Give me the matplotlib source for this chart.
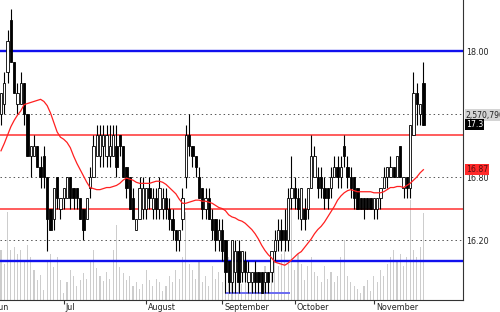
import matplotlib
matplotlib.use("Agg")
import matplotlib.pyplot as plt
import numpy as np

# daily candles (price)
opens = [17.4, 17.5, 17.8, 18.3, 17.9, 17.5, 17.5, 17.7, 17.4, 17.0,
         17.0, 17.1, 16.9, 17.0, 16.8, 16.5, 16.4, 16.8, 16.5, 16.6,
         16.6, 16.8, 16.7, 16.7, 16.6, 16.5, 16.4, 16.7, 16.8, 17.0,
         17.0, 17.1, 17.0, 17.0, 17.0, 17.1, 17.2, 17.1, 16.9, 16.8,
         16.6, 16.3, 16.4, 16.5, 16.5, 16.7, 16.5, 16.6, 16.5, 16.5,
         16.6, 16.5, 16.4, 16.3, 16.2, 16.4, 16.8, 17.2, 17.1, 17.0,
         16.8, 16.7, 16.5, 16.6, 16.4, 16.4, 16.2, 16.3, 16.2, 16.0,
         15.8, 15.9, 16.1, 15.9, 16.0, 15.8, 15.8, 15.9, 15.9, 15.9,
         15.8, 15.9, 15.9, 16.1, 16.2, 16.3, 16.3, 16.2, 16.6, 16.7,
         16.6, 16.4, 16.5, 16.5, 16.7, 16.8, 16.8, 16.8, 16.7, 16.7,
         16.7, 16.8, 16.9, 16.8, 17.1, 16.9, 16.8, 16.8, 16.7, 16.6,
         16.6, 16.6, 16.6, 16.5, 16.5, 16.6, 16.7, 16.8, 16.8, 16.9,
         16.8, 17.1, 16.7, 16.8, 16.7, 17.2, 17.6, 17.4, 17.7]
closes = [17.6, 17.7, 18.1, 17.9, 17.6, 17.6, 17.7, 17.4, 17.0, 17.1,
          17.1, 16.9, 16.8, 16.8, 16.4, 16.3, 16.7, 16.6, 16.6, 16.7,
          16.8, 16.6, 16.6, 16.6, 16.4, 16.3, 16.6, 16.8, 17.1, 17.2,
          17.2, 17.2, 17.2, 17.1, 17.2, 16.9, 17.1, 16.8, 16.7, 16.5,
          16.4, 16.4, 16.7, 16.7, 16.7, 16.6, 16.6, 16.5, 16.7, 16.6,
          16.5, 16.4, 16.3, 16.2, 16.3, 16.6, 17.2, 17.1, 17.0, 16.9,
          16.6, 16.5, 16.6, 16.4, 16.3, 16.2, 16.3, 16.1, 15.9, 15.8,
          16.2, 16.1, 15.8, 16.1, 15.9, 15.9, 15.9, 15.8, 15.8, 15.7,
          15.9, 15.8, 16.1, 16.2, 16.3, 16.2, 16.2, 16.6, 16.7, 16.6,
          16.5, 16.7, 16.4, 16.7, 17.0, 17.0, 16.7, 16.7, 16.6, 16.6,
          16.8, 16.9, 16.8, 16.9, 17.0, 16.8, 16.7, 16.6, 16.5, 16.5,
          16.5, 16.5, 16.5, 16.6, 16.6, 16.7, 16.8, 16.9, 16.9, 16.8,
          17.0, 16.8, 16.8, 16.7, 17.3, 17.6, 17.5, 17.5, 17.3]
highs = [17.6, 17.8, 18.2, 18.4, 17.9, 17.7, 17.8, 17.7, 17.4, 17.1,
         17.2, 17.1, 17.0, 17.1, 16.8, 16.5, 16.7, 16.8, 16.6, 16.7,
         16.8, 16.8, 16.7, 16.7, 16.6, 16.5, 16.6, 16.9, 17.2, 17.3,
         17.3, 17.3, 17.3, 17.3, 17.3, 17.3, 17.2, 17.1, 16.9, 16.8,
         16.7, 16.4, 16.8, 16.8, 16.7, 16.8, 16.7, 16.7, 16.8, 16.7,
         16.7, 16.6, 16.5, 16.3, 16.3, 16.7, 17.3, 17.4, 17.1, 17.0,
         16.9, 16.7, 16.7, 16.7, 16.5, 16.4, 16.4, 16.4, 16.2, 16.0,
         16.2, 16.2, 16.2, 16.1, 16.1, 16.0, 15.9, 16.0, 15.9, 15.9,
         15.9, 15.9, 16.1, 16.3, 16.4, 16.4, 16.5, 16.7, 17.0, 16.8,
         16.7, 16.7, 16.6, 16.7, 17.2, 17.1, 16.9, 16.9, 16.8, 16.7,
         16.9, 17.0, 17.0, 17.0, 17.2, 17.0, 16.9, 16.8, 16.7, 16.6,
         16.6, 16.6, 16.6, 16.6, 16.6, 16.7, 16.9, 16.9, 17.0, 16.9,
         17.0, 17.1, 16.8, 16.8, 17.3, 17.8, 17.7, 17.5, 17.9]
lows = [17.3, 17.4, 17.7, 17.9, 17.6, 17.4, 17.5, 17.3, 17.0, 16.8,
        17.0, 16.9, 16.7, 16.7, 16.1, 16.3, 16.3, 16.5, 16.4, 16.5,
        16.6, 16.5, 16.5, 16.5, 16.4, 16.2, 16.4, 16.6, 16.8, 17.0,
        16.9, 16.9, 16.9, 16.9, 17.0, 16.8, 17.0, 16.8, 16.6, 16.5,
        16.4, 16.3, 16.4, 16.4, 16.4, 16.5, 16.4, 16.4, 16.4, 16.4,
        16.4, 16.3, 16.2, 16.1, 16.1, 16.3, 16.7, 17.0, 16.9, 16.8,
        16.6, 16.4, 16.4, 16.4, 16.2, 16.1, 16.1, 16.0, 15.7, 15.7,
        15.7, 15.7, 15.7, 15.8, 15.8, 15.7, 15.7, 15.7, 15.7, 15.7,
        15.7, 15.7, 15.8, 16.0, 16.1, 16.1, 16.1, 16.1, 16.5, 16.5,
        16.4, 16.3, 16.3, 16.4, 16.7, 16.8, 16.6, 16.6, 16.5, 16.5,
        16.6, 16.8, 16.7, 16.7, 16.9, 16.7, 16.6, 16.5, 16.5, 16.5,
        16.4, 16.5, 16.5, 16.4, 16.4, 16.5, 16.7, 16.7, 16.8, 16.8,
        16.8, 16.8, 16.6, 16.6, 16.6, 17.2, 17.3, 17.3, 17.3]
# volume in thousands of shares
volume = [700, 500, 1230, 700, 740, 650, 700, 560, 770, 600,
          420, 280, 350, 140, 560, 650, 460, 600, 280, 100,
          250, 420, 330, 190, 280, 380, 300, 560, 700, 450,
          330, 260, 390, 300, 700, 1050, 460, 380, 280, 330,
          190, 250, 150, 220, 420, 280, 190, 300, 250, 130,
          200, 330, 250, 420, 300, 600, 1230, 500, 420, 300,
          560, 250, 330, 200, 470, 300, 390, 250, 200, 600,
          330, 280, 500, 220, 390, 300, 250, 420, 330, 200,
          470, 280, 390, 560, 470, 650, 700, 500, 1300, 420,
          650, 500, 280, 470, 600, 390, 330, 250, 470, 300,
          390, 250, 330, 600, 840, 330, 250, 190, 150, 100,
          200, 280, 130, 330, 250, 420, 330, 500, 600, 700,
          560, 650, 470, 600, 1400, 700, 600, 740, 1220]
# moving average as drawn on the chart
ma = [17.05, 17.12, 17.20, 17.28, 17.34, 17.39, 17.43, 17.49, 17.50, 17.51,
      17.52, 17.53, 17.54, 17.52, 17.48, 17.41, 17.32, 17.23, 17.18, 17.16,
      17.13, 17.08, 17.00, 16.93, 16.87, 16.81, 16.75, 16.70, 16.69, 16.68,
      16.68, 16.69, 16.70, 16.70, 16.71, 16.72, 16.74, 16.77, 16.79, 16.78,
      16.77, 16.75, 16.74, 16.74, 16.74, 16.74, 16.75, 16.76, 16.76, 16.75,
      16.73, 16.70, 16.67, 16.64, 16.59, 16.55, 16.55, 16.56, 16.57, 16.58,
      16.58, 16.57, 16.57, 16.56, 16.55, 16.53, 16.51, 16.50, 16.48, 16.44,
      16.42, 16.41, 16.39, 16.38, 16.36, 16.33, 16.30, 16.26, 16.21, 16.15,
      16.10, 16.06, 16.03, 15.99, 15.98, 15.97, 15.96, 15.98, 16.01, 16.04,
      16.07, 16.09, 16.13, 16.17, 16.21, 16.26, 16.30, 16.33, 16.37, 16.42,
      16.47, 16.52, 16.58, 16.62, 16.65, 16.67, 16.68, 16.67, 16.66, 16.66,
      16.66, 16.66, 16.66, 16.65, 16.65, 16.65, 16.66, 16.68, 16.70, 16.70,
      16.71, 16.71, 16.70, 16.72, 16.74, 16.77, 16.80, 16.84, 16.87]

month_names = ["Jun", "Jul", "August", "September", "October", "November"]
month_start = [-2.1, 19, 44, 67, 89, 113]

red_levels = [17.2, 16.5]
blue_levels = [18.0, 16.0]
support_level = 15.7
support_span = (68, 87.5)
grid_levels = [16.2, 16.8, 17.4, 18.0]

n = len(closes)
idx = np.arange(n)
o = np.array(opens); c = np.array(closes)
h = np.array(highs); l = np.array(lows)

fig = plt.figure(figsize=(5, 3.12), dpi=100)
ax = fig.add_axes([0, 12 / 312, 463 / 500, 300 / 312])
axv = ax.twinx()
ax.set_zorder(axv.get_zorder() + 1)
ax.patch.set_visible(False)

# volume behind the candles
axv.bar(idx, volume, width=0.35, color="#cdcdcd", linewidth=0)
axv.set_ylim(0, 4200)
axv.set_yticks([])
for s in axv.spines.values():
    s.set_visible(False)

for g in grid_levels:
    ax.axhline(g, color="#555555", lw=0.7, ls=(0, (1.5, 3)), zorder=1)
for r in red_levels:
    ax.axhline(r, color="#ff3030", lw=1.1, zorder=2)
for b in blue_levels:
    ax.axhline(b, color="#1010ee", lw=1.7, zorder=2)
ax.hlines(support_level, *support_span, color="#6a6af0", lw=1.4, zorder=2)

# candles
ax.vlines(idx, l, h, color="black", lw=0.8, zorder=3)
up = c >= o
bot = np.minimum(o, c)
hgt = np.maximum(np.abs(c - o), 0.02)
ax.bar(idx[up], hgt[up], bottom=bot[up], width=0.7, color="white",
       edgecolor="black", linewidth=0.6, zorder=4)
ax.bar(idx[~up], hgt[~up], bottom=bot[~up], width=0.7, color="black",
       edgecolor="black", linewidth=0.6, zorder=4)

ax.plot(idx, ma, color="#ff2020", lw=0.9, zorder=5)

for s in ["left", "top"]:
    ax.spines[s].set_visible(False)
ax.spines["right"].set_color("#333333")
ax.spines["bottom"].set_color("#333333")
ax.set_yticks([])

# only ticks inside the view; Jun starts off the left edge
ax.set_xticks([m for m in month_start if m >= 0])
ax.set_xticklabels([])
ax.tick_params(axis="x", length=3, width=0.8, color="#333333")
for m, name in zip(month_start, month_names):
    ax.text(m + 0.6, -0.01, name, transform=ax.get_xaxis_transform(),
            ha="left", va="top", fontsize=5.8, color="#222222", clip_on=False)

ax.set_xlim(-0.3, 140)
ax.set_ylim(15.629, 18.486)

# right-hand price labels
tr = ax.get_yaxis_transform()
for val, txt in [(18.0, "18.00"), (16.8, "16.80"), (16.2, "16.20")]:
    ax.text(1.006, val - 0.01, txt, transform=tr, ha="left", va="center",
            fontsize=5.8, color="#222222", clip_on=False)
ax.text(1.006, 17.39, "2,570,790", transform=tr, ha="left", va="center",
        fontsize=5.6, color="#222222", clip_on=False,
        bbox=dict(boxstyle="square,pad=0.15", fc="#d4d4d4", ec="none"))
ax.text(1.006, closes[-1], "17.3", transform=tr, ha="left", va="center",
        fontsize=5.6, color="white", clip_on=False,
        bbox=dict(boxstyle="square,pad=0.15", fc="black", ec="none"))
ax.text(1.006, ma[-1], f"{ma[-1]:.2f}", transform=tr, ha="left", va="center",
        fontsize=5.6, color="#551111", clip_on=False,
        bbox=dict(boxstyle="square,pad=0.15", fc="#ff2a2a", ec="none"))

fig.savefig("out.png", dpi=100)
